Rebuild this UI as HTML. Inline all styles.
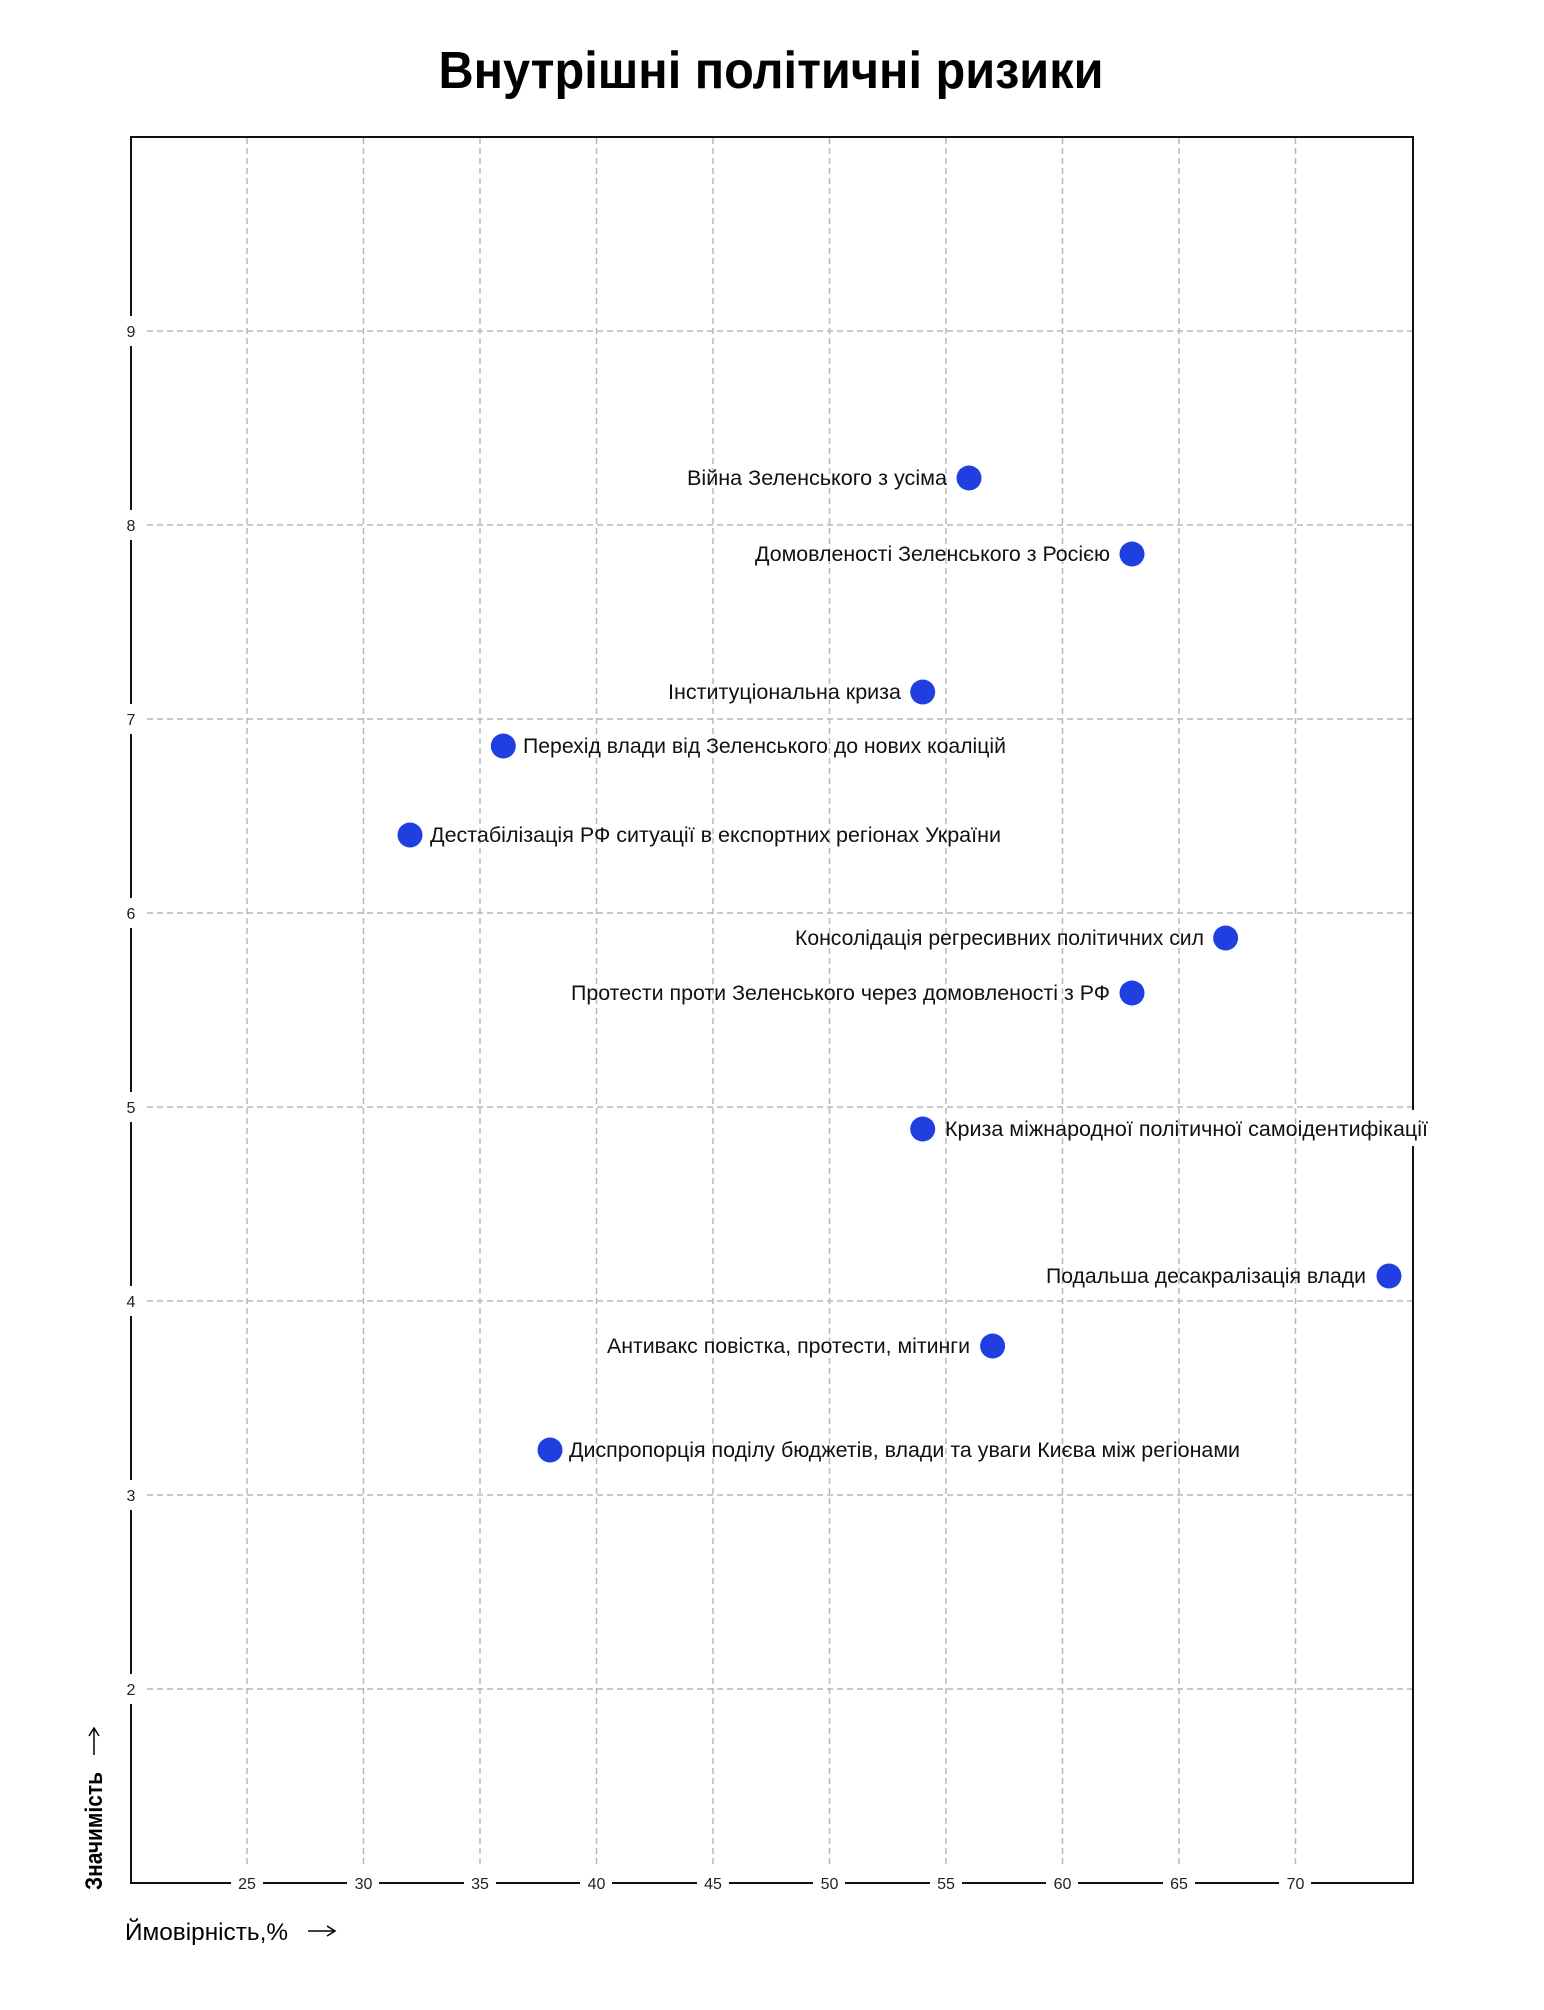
<!DOCTYPE html>
<html><head><meta charset="utf-8"><style>
html,body{margin:0;padding:0;background:#fff;}
svg{display:block;}
text{font-family:"Liberation Sans","DejaVu Sans",sans-serif;}
</style></head><body>
<svg width="1544" height="2010" viewBox="0 0 1544 2010" xmlns="http://www.w3.org/2000/svg">
<rect width="1544" height="2010" fill="#fff"/>
<text x="771" y="88" text-anchor="middle" font-size="52" font-weight="bold" fill="#000" textLength="665" lengthAdjust="spacingAndGlyphs">Внутрішні політичні ризики</text>
<g stroke="#b8b8bc" stroke-width="1.5" stroke-dasharray="6,4" fill="none">
<line x1="247" y1="138" x2="247" y2="1866"/>
<line x1="363.5" y1="138" x2="363.5" y2="1866"/>
<line x1="480" y1="138" x2="480" y2="1866"/>
<line x1="596.5" y1="138" x2="596.5" y2="1866"/>
<line x1="713" y1="138" x2="713" y2="1866"/>
<line x1="829.5" y1="138" x2="829.5" y2="1866"/>
<line x1="946" y1="138" x2="946" y2="1866"/>
<line x1="1062.5" y1="138" x2="1062.5" y2="1866"/>
<line x1="1179" y1="138" x2="1179" y2="1866"/>
<line x1="1295.5" y1="138" x2="1295.5" y2="1866"/>
<line x1="147" y1="331" x2="1412" y2="331"/>
<line x1="147" y1="525" x2="1412" y2="525"/>
<line x1="147" y1="719" x2="1412" y2="719"/>
<line x1="147" y1="913" x2="1412" y2="913"/>
<line x1="147" y1="1107" x2="1412" y2="1107"/>
<line x1="147" y1="1301" x2="1412" y2="1301"/>
<line x1="147" y1="1495" x2="1412" y2="1495"/>
<line x1="147" y1="1689" x2="1412" y2="1689"/>
</g>
<rect x="131" y="137" width="1282" height="1746" fill="none" stroke="#111" stroke-width="2"/>
<g font-size="16" fill="#222" text-anchor="middle">
<g fill="#fff" stroke="none">
<rect x="122" y="316" width="18" height="30"/><rect x="122" y="510" width="18" height="30"/><rect x="122" y="704" width="18" height="30"/><rect x="122" y="898" width="18" height="30"/><rect x="122" y="1092" width="18" height="30"/><rect x="122" y="1286" width="18" height="30"/><rect x="122" y="1480" width="18" height="30"/><rect x="122" y="1674" width="18" height="30"/>
<rect x="231" y="1874" width="32" height="18"/><rect x="347" y="1874" width="32" height="18"/><rect x="464" y="1874" width="32" height="18"/><rect x="580" y="1874" width="32" height="18"/><rect x="697" y="1874" width="32" height="18"/><rect x="813" y="1874" width="32" height="18"/><rect x="930" y="1874" width="32" height="18"/><rect x="1046" y="1874" width="32" height="18"/><rect x="1163" y="1874" width="32" height="18"/><rect x="1279" y="1874" width="32" height="18"/>
</g>
<text x="131" y="337">9</text><text x="131" y="531">8</text><text x="131" y="725">7</text><text x="131" y="919">6</text><text x="131" y="1113">5</text><text x="131" y="1307">4</text><text x="131" y="1501">3</text><text x="131" y="1695">2</text>
<text x="247" y="1889">25</text><text x="363.5" y="1889">30</text><text x="480" y="1889">35</text><text x="596.5" y="1889">40</text><text x="713" y="1889">45</text><text x="829.5" y="1889">50</text><text x="946" y="1889">55</text><text x="1062.5" y="1889">60</text><text x="1179" y="1889">65</text><text x="1295.5" y="1889">70</text>
</g>
<text x="125" y="1940" font-size="24" fill="#000" textLength="163" lengthAdjust="spacingAndGlyphs">Ймовірність,%</text>
<line x1="308" y1="1931" x2="334" y2="1931" stroke="#000" stroke-width="1.5"/>
<path d="M327 1926 L335 1931 L327 1936" fill="none" stroke="#000" stroke-width="1.5"/>
<text transform="translate(102,1890) rotate(-90)" font-size="24" font-weight="bold" fill="#000" textLength="118" lengthAdjust="spacingAndGlyphs">Значимість</text>
<line x1="94" y1="1755" x2="94" y2="1729" stroke="#000" stroke-width="1.5"/>
<path d="M89 1736 L94 1728 L99 1736" fill="none" stroke="#000" stroke-width="1.5"/>
<g fill="#1f3fe0">
<circle cx="969" cy="478" r="12.5"/><circle cx="1132" cy="554" r="12.5"/><circle cx="922.7" cy="692" r="12.5"/><circle cx="503.3" cy="746" r="12.5"/><circle cx="410" cy="835" r="12.5"/><circle cx="1225.6" cy="938" r="12.5"/><circle cx="1132" cy="993" r="12.5"/><circle cx="922.7" cy="1129" r="12.5"/><circle cx="1389" cy="1276" r="12.5"/><circle cx="992.6" cy="1346" r="12.5"/><circle cx="550" cy="1450" r="12.5"/>
</g>
<rect x="1412" y="1110" width="20" height="36" fill="#fff"/>
<g font-size="21" fill="#111">
<text x="687" y="485" textLength="260" lengthAdjust="spacingAndGlyphs">Війна Зеленського з усіма</text>
<text x="755" y="561" textLength="355" lengthAdjust="spacingAndGlyphs">Домовленості Зеленського з Росією</text>
<text x="668" y="699" textLength="233" lengthAdjust="spacingAndGlyphs">Інституціональна криза</text>
<text x="523" y="753" textLength="483" lengthAdjust="spacingAndGlyphs">Перехід влади від Зеленського до нових коаліцій</text>
<text x="430" y="842" textLength="571" lengthAdjust="spacingAndGlyphs">Дестабілізація РФ ситуації в експортних регіонах України</text>
<text x="795" y="945" textLength="409" lengthAdjust="spacingAndGlyphs">Консолідація регресивних політичних сил</text>
<text x="571" y="1000" textLength="539" lengthAdjust="spacingAndGlyphs">Протести проти Зеленського через домовленості з РФ</text>
<text x="945" y="1136" textLength="483" lengthAdjust="spacingAndGlyphs">Криза міжнародної політичної самоідентифікації</text>
<text x="1046" y="1283" textLength="320" lengthAdjust="spacingAndGlyphs">Подальша десакралізація влади</text>
<text x="607" y="1353" textLength="363" lengthAdjust="spacingAndGlyphs">Антивакс повістка, протести, мітинги</text>
<text x="569" y="1457" textLength="671" lengthAdjust="spacingAndGlyphs">Диспропорція поділу бюджетів, влади та уваги Києва між регіонами</text>
</g>
</svg>
</body></html>
